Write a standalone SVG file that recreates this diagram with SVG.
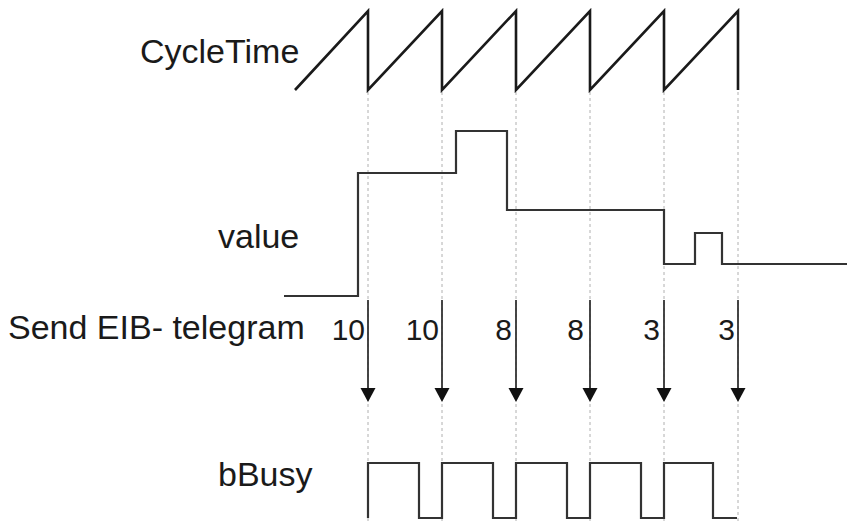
<svg xmlns="http://www.w3.org/2000/svg" width="847" height="521" viewBox="0 0 847 521">
<defs>
<style>
.lbl{font-family:"Liberation Sans",Arial,sans-serif;font-size:34px;fill:#1a1a1a}
.num{font-family:"Liberation Sans",Arial,sans-serif;font-size:30px;fill:#1a1a1a;text-anchor:end}
.grid{stroke:#b0b0b0;stroke-width:1;stroke-dasharray:3,3;fill:none}
.sig{stroke:#1a1a1a;stroke-width:2.6;fill:none;stroke-linejoin:miter}
.sig2{stroke:#333;stroke-width:2.2;fill:none}
.arr{stroke:#333;stroke-width:1.8;fill:none}
.head{fill:#111}
</style>
</defs>
<rect width="847" height="521" fill="#fff"/>
<g id="gridlines">
<line class="grid" x1="368" y1="92" x2="368" y2="521"/>
<line class="grid" x1="442" y1="92" x2="442" y2="521"/>
<line class="grid" x1="516" y1="92" x2="516" y2="521"/>
<line class="grid" x1="590" y1="92" x2="590" y2="521"/>
<line class="grid" x1="664" y1="92" x2="664" y2="521"/>
<line class="grid" x1="738" y1="92" x2="738" y2="521"/>
</g>
<g id="labels">
<text class="lbl" x="140" y="63">CycleTime</text>
<text class="lbl" x="218" y="248">value</text>
<text class="lbl" x="8" y="339">Send EIB- telegram</text>
<text class="lbl" x="218" y="486">bBusy</text>
</g>
<g id="cycletime">
<path class="sig" d="M295,90 L368,11 V90 L442,11 V90 L516,11 V90 L590,11 V90 L664,11 V90 L738,11 V90"/>
</g>
<g id="value">
<path class="sig2" d="M284,296 H358 V173 H456 V131 H507 V210 H664 V264 H695 V233 H722 V264 H847"/>
</g>
<g id="telegrams">
<g id="t1"><path d="M368,300 V388" class="arr"/><path class="head" d="M360.5,388 L368,402 L375.5,388 Z"/><text class="num" x="365" y="340">10</text></g>
<g id="t2"><path d="M442,300 V388" class="arr"/><path class="head" d="M434.5,388 L442,402 L449.5,388 Z"/><text class="num" x="439" y="340">10</text></g>
<g id="t3"><path d="M516,300 V388" class="arr"/><path class="head" d="M508.5,388 L516,402 L523.5,388 Z"/><text class="num" x="512" y="340">8</text></g>
<g id="t4"><path d="M590,300 V388" class="arr"/><path class="head" d="M582.5,388 L590,402 L597.5,388 Z"/><text class="num" x="584" y="340">8</text></g>
<g id="t5"><path d="M664,300 V388" class="arr"/><path class="head" d="M656.5,388 L664,402 L671.5,388 Z"/><text class="num" x="660" y="340">3</text></g>
<g id="t6"><path d="M738,300 V388" class="arr"/><path class="head" d="M730.5,388 L738,402 L745.5,388 Z"/><text class="num" x="735" y="340">3</text></g>
</g>
<g id="bbusy">
<path class="sig2" d="M368,518 V463 H419 V518 H442 V463 H493 V518 H516 V463 H567 V518 H590 V463 H641 V518 H664 V463 H713 V518 H737"/>
</g>
</svg>
